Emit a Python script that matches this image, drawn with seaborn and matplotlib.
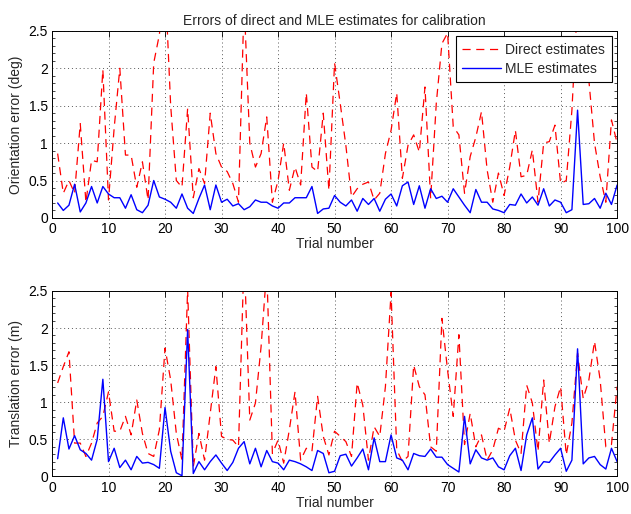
import numpy as np
import pandas as pd
import seaborn as sns
import matplotlib.pyplot as plt
from matplotlib.ticker import MultipleLocator

trials = list(range(1, 101))

orient_direct = [
    0.86, 0.33, 0.50, 0.33, 1.26, 0.21, 0.77, 0.75, 1.98, 0.24,
    1.20, 2.00, 0.84, 0.84, 0.41, 0.75, 0.24, 2.07, 2.45, 3.20,
    1.50, 0.50, 0.41, 1.46, 0.27, 0.66, 0.46, 1.40, 0.86, 0.68,
    0.62, 0.46, 0.21, 2.90, 1.00, 0.68, 0.86, 1.35, 0.21, 0.50,
    1.00, 0.37, 0.68, 0.44, 1.67, 0.68, 0.62, 1.40, 0.37, 2.07,
    1.53, 0.97, 0.28, 0.39, 0.45, 0.48, 0.24, 0.33, 0.86, 1.17,
    1.67, 0.53, 0.97, 1.11, 0.88, 1.75, 0.26, 1.53, 2.33, 2.47,
    1.22, 1.11, 0.33, 0.82, 1.08, 1.42, 0.64, 0.21, 0.60, 0.30,
    0.68, 1.17, 0.55, 0.57, 0.91, 0.21, 1.00, 1.02, 1.24, 0.46,
    0.50, 1.44, 2.90, 2.20, 1.84, 1.00, 0.55, 0.21, 1.31, 1.00]

orient_mle = [
    0.20, 0.10, 0.17, 0.45, 0.08, 0.20, 0.42, 0.20, 0.42, 0.32,
    0.27, 0.27, 0.13, 0.31, 0.11, 0.07, 0.17, 0.50, 0.28, 0.25,
    0.21, 0.13, 0.32, 0.13, 0.06, 0.26, 0.44, 0.11, 0.44, 0.21,
    0.25, 0.16, 0.19, 0.11, 0.15, 0.24, 0.21, 0.21, 0.16, 0.13,
    0.20, 0.20, 0.27, 0.27, 0.27, 0.42, 0.06, 0.12, 0.13, 0.30,
    0.21, 0.16, 0.24, 0.09, 0.26, 0.18, 0.26, 0.09, 0.25, 0.32,
    0.16, 0.43, 0.48, 0.18, 0.43, 0.13, 0.39, 0.26, 0.29, 0.21,
    0.39, 0.28, 0.17, 0.07, 0.38, 0.21, 0.21, 0.12, 0.10, 0.07,
    0.18, 0.17, 0.32, 0.20, 0.28, 0.17, 0.39, 0.16, 0.24, 0.21,
    0.07, 0.11, 1.44, 0.18, 0.19, 0.26, 0.13, 0.33, 0.18, 0.44]

trans_direct = [
    1.26, 1.48, 1.68, 0.45, 0.45, 0.27, 0.45, 0.72, 0.81, 1.14,
    0.61, 0.61, 0.81, 0.56, 1.03, 0.58, 0.31, 0.27, 0.63, 1.73,
    1.30, 0.58, 0.22, 2.52, 0.13, 0.58, 0.22, 0.85, 1.48, 0.54,
    0.50, 0.49, 0.40, 3.00, 0.76, 0.99, 1.75, 2.80, 0.31, 0.49,
    0.18, 0.63, 1.14, 0.22, 0.38, 0.34, 1.08, 0.54, 0.29, 0.61,
    0.54, 0.47, 0.27, 1.26, 0.96, 0.22, 0.67, 0.54, 1.21, 2.48,
    0.36, 0.20, 0.27, 1.50, 1.21, 1.10, 0.40, 0.34, 2.13, 1.43,
    0.81, 1.91, 0.43, 0.85, 0.40, 0.56, 0.22, 0.36, 0.65, 0.61,
    0.92, 0.49, 0.31, 1.23, 0.99, 0.34, 1.30, 0.45, 0.94, 1.21,
    0.29, 0.72, 1.66, 1.05, 1.30, 1.82, 1.30, 0.40, 0.43, 1.21]

trans_mle = [
    0.24, 0.79, 0.37, 0.55, 0.36, 0.31, 0.22, 0.50, 1.31, 0.20,
    0.38, 0.12, 0.22, 0.09, 0.27, 0.18, 0.19, 0.16, 0.11, 0.93,
    0.34, 0.05, 0.01, 1.98, 0.04, 0.20, 0.09, 0.20, 0.29, 0.18,
    0.08, 0.19, 0.38, 0.47, 0.17, 0.38, 0.13, 0.35, 0.20, 0.18,
    0.09, 0.22, 0.20, 0.17, 0.13, 0.08, 0.35, 0.31, 0.05, 0.07,
    0.28, 0.30, 0.14, 0.25, 0.37, 0.09, 0.52, 0.20, 0.20, 0.56,
    0.25, 0.22, 0.09, 0.31, 0.28, 0.27, 0.37, 0.26, 0.26, 0.16,
    0.11, 0.06, 0.81, 0.17, 0.36, 0.25, 0.22, 0.25, 0.13, 0.09,
    0.28, 0.38, 0.08, 0.56, 0.79, 0.10, 0.20, 0.19, 0.29, 0.38,
    0.07, 0.22, 1.72, 0.17, 0.25, 0.27, 0.16, 0.10, 0.38, 0.20]

x_ticks = list(range(0, 101, 10))
y_ticks = [0, 0.5, 1, 1.5, 2, 2.5]
y_tick_labels = ["0", "0.5", "1", "1.5", "2", "2.5"]

sns.set_style("white")
plt.rcParams['font.family'] = ['Liberation Sans', 'DejaVu Sans']
plt.rcParams['font.size'] = 10


def style_axes(ax, ylabel):
    ax.set_xlim(0, 100)
    ax.set_ylim(0, 2.5)
    ax.set_xticks(x_ticks)
    ax.set_yticks(y_ticks)
    ax.set_yticklabels(y_tick_labels)
    ax.yaxis.set_minor_locator(MultipleLocator(0.1))
    ax.set_xlabel("Trial number", labelpad=1)
    ax.set_ylabel(ylabel, labelpad=4)
    ax.grid(True, which='major', linestyle=(0, (1, 3)), color='0.35', linewidth=0.7)
    ax.tick_params(which='major', direction='in', length=4, width=0.6, top=True,
                   right=True, labelsize=10, pad=3, colors='k')
    ax.tick_params(which='minor', direction='in', length=2, width=0.5, top=False,
                   bottom=False, left=True, right=True, colors='k')
    for s in ax.spines.values():
        s.set_visible(True)
        s.set_color('k')
        s.set_linewidth(0.7)


df_top = pd.DataFrame({"trial": trials, "direct": orient_direct, "mle": orient_mle})
df_bot = pd.DataFrame({"trial": trials, "direct": trans_direct, "mle": trans_mle})

fig = plt.figure(figsize=(6.31, 5.14), dpi=100)
ax1 = fig.add_axes([0.0824, 0.576, 0.8956, 0.364])
ax2 = fig.add_axes([0.0824, 0.073, 0.8956, 0.361])

for ax, df, ylabel in [(ax1, df_top, "Orientation error (deg)"),
                       (ax2, df_bot, "Translation error (m)")]:
    sns.lineplot(data=df, x="trial", y="direct", ax=ax, color=(1, 0, 0),
                 linestyle=(0, (6.5, 4.5)), linewidth=0.9, label="Direct estimates")
    sns.lineplot(data=df, x="trial", y="mle", ax=ax, color=(0, 0, 1),
                 linewidth=1.0, label="MLE estimates")
    style_axes(ax, ylabel)

ax1.set_title("Errors of direct and MLE estimates for calibration", fontsize=10, pad=4)
leg = ax1.legend(loc='upper right', fontsize=10, frameon=True, fancybox=False,
                 borderaxespad=0.4, handlelength=2.8, borderpad=0.45,
                 labelspacing=0.35, handletextpad=0.3, framealpha=1)
leg.get_frame().set_edgecolor('k')
leg.get_frame().set_linewidth(0.8)
ax2.get_legend().remove()

fig.savefig("out.png", dpi=100)
